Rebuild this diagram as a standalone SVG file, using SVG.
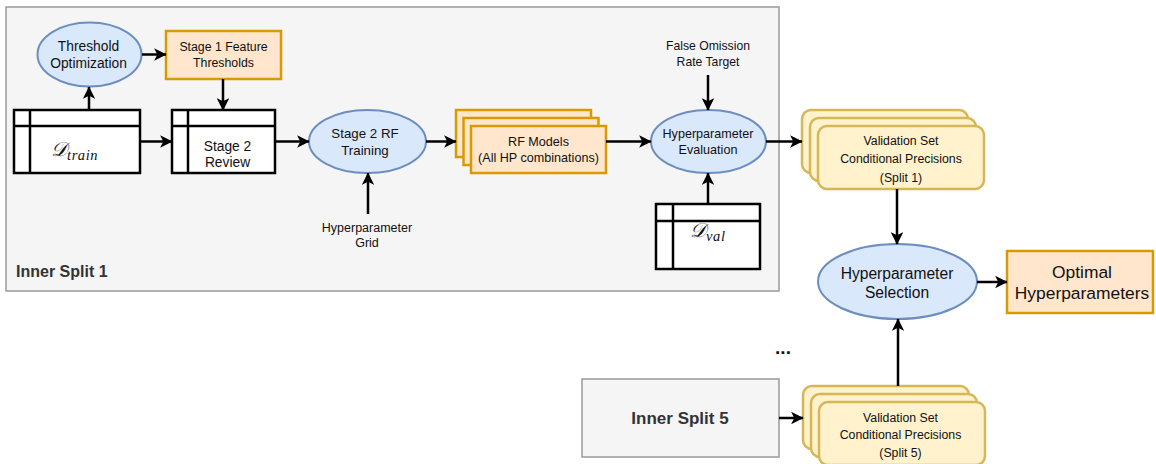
<svg xmlns="http://www.w3.org/2000/svg" width="1156" height="464" viewBox="0 0 1156 464">
  <defs>
    <marker id="arrow" viewBox="0 0 10 10" refX="9.5" refY="5" markerWidth="5.2" markerHeight="5" orient="auto" markerUnits="strokeWidth">
      <path d="M0,0 L10,5 L0,10 L2.5,5 Z" fill="#000"/>
    </marker>
    <style>
      text { font-family: "Liberation Sans", Arial, sans-serif; fill: #111; text-anchor: middle; }
      .ell { fill: #dae8fc; stroke: #6c8ebf; stroke-width: 2; }
      .org { fill: #ffe6cc; stroke: #d79b00; stroke-width: 2.5; }
      .yel { fill: #fff2cc; stroke: #d6b656; stroke-width: 2.5; }
      .tbl { fill: #fff; stroke: #000; stroke-width: 2.5; }
      .grp { fill: #f5f5f5; stroke: #999; stroke-width: 1.5; }
      .edge { fill: none; stroke: #000; stroke-width: 2.5; marker-end: url(#arrow); }
      .math { font-family: "Liberation Serif", "DejaVu Serif", serif; font-style: italic; text-anchor: start; }
      .sub { letter-spacing: 0.6px; }
      .glabel { font-weight: bold; fill: #333; }
    </style>
  </defs>

  <!-- container for the first inner split -->
  <g id="inner-split-1">
    <rect class="grp" x="6" y="7" width="773" height="284"/>
    <text class="glabel" x="16" y="277" font-size="16" style="text-anchor:start">Inner Split 1</text>
  </g>

  <g id="threshold-optimization">
    <ellipse class="ell" cx="89.5" cy="54.5" rx="52" ry="32"/>
    <text x="88.5" y="50.5" font-size="13.8">Threshold</text>
    <text x="88.5" y="67.5" font-size="13.8">Optimization</text>
  </g>

  <g id="stage1-thresholds">
    <rect class="org" x="166" y="31" width="115" height="48"/>
    <text x="223.5" y="50.5" font-size="12.3">Stage 1 Feature</text>
    <text x="223.5" y="66.5" font-size="12.3">Thresholds</text>
  </g>

  <g id="d-train">
    <rect class="tbl" x="14" y="110" width="126" height="63"/>
    <line x1="30" y1="110" x2="30" y2="173" stroke="#000" stroke-width="2.5"/>
    <line x1="14" y1="126" x2="140" y2="126" stroke="#000" stroke-width="2.5"/>
    <text class="math" x="51" y="156"><tspan font-size="20">𝒟</tspan><tspan class="sub" font-size="14.5" dy="3.5">train</tspan></text>
  </g>

  <g id="stage2-review">
    <rect class="tbl" x="172" y="110" width="103" height="63"/>
    <line x1="188" y1="110" x2="188" y2="173" stroke="#000" stroke-width="2.5"/>
    <line x1="172" y1="126" x2="275" y2="126" stroke="#000" stroke-width="2.5"/>
    <text x="227.5" y="151" font-size="13.8">Stage 2</text>
    <text x="227.5" y="167" font-size="13.8">Review</text>
  </g>

  <g id="stage2-rf-training">
    <ellipse class="ell" cx="367.5" cy="141.5" rx="58.5" ry="31.5"/>
    <text x="365" y="137.5" font-size="13.3">Stage 2 RF</text>
    <text x="365" y="154.5" font-size="13.3">Training</text>
  </g>

  <g id="hp-grid">
    <text x="367" y="232" font-size="12.5">Hyperparameter</text>
    <text x="367" y="246.5" font-size="12.5">Grid</text>
  </g>

  <g id="rf-models">
    <rect class="org" x="456" y="110" width="135" height="47"/>
    <rect class="org" x="463.5" y="118" width="135" height="47"/>
    <rect class="org" x="471" y="126" width="135" height="47"/>
    <text x="538.5" y="145.5" font-size="12.6">RF Models</text>
    <text x="538.5" y="161.5" font-size="12.6">(All HP combinations)</text>
  </g>

  <g id="for-target">
    <text x="708" y="50" font-size="12.2">False Omission</text>
    <text x="708" y="66" font-size="12.2">Rate Target</text>
  </g>

  <g id="hp-evaluation">
    <ellipse class="ell" cx="708.5" cy="141.5" rx="57.5" ry="31.5"/>
    <text x="708" y="137.5" font-size="12.6">Hyperparameter</text>
    <text x="708" y="153.5" font-size="12.6">Evaluation</text>
  </g>

  <g id="d-val">
    <rect class="tbl" x="656" y="204" width="104" height="65"/>
    <line x1="673" y1="204" x2="673" y2="269" stroke="#000" stroke-width="2.5"/>
    <line x1="656" y1="221" x2="760" y2="221" stroke="#000" stroke-width="2.5"/>
    <text class="math" x="690" y="237"><tspan font-size="20">𝒟</tspan><tspan class="sub" font-size="14.5" dy="3.5">val</tspan></text>
  </g>

  <g id="val-precisions-split1">
    <rect class="yel" x="802" y="110" width="166" height="63" rx="9"/>
    <rect class="yel" x="810" y="118" width="166" height="63" rx="9"/>
    <rect class="yel" x="818" y="126" width="166" height="63" rx="9"/>
    <text x="901" y="144.5" font-size="12.3">Validation Set</text>
    <text x="901" y="162.5" font-size="12.3">Conditional Precisions</text>
    <text x="901" y="181.5" font-size="12.3">(Split 1)</text>
  </g>

  <g id="hp-selection">
    <ellipse class="ell" cx="897.5" cy="281.5" rx="79.5" ry="37.5"/>
    <text x="897" y="278.5" font-size="15.6">Hyperparameter</text>
    <text x="897" y="297.5" font-size="15.6">Selection</text>
  </g>

  <g id="optimal-hp">
    <rect class="org" x="1007" y="251" width="146" height="62"/>
    <text x="1082" y="278" font-size="17.4">Optimal</text>
    <text x="1082" y="299" font-size="17.4">Hyperparameters</text>
  </g>

  <g id="ellipsis">
    <text x="783" y="354" font-size="19" font-weight="bold">...</text>
  </g>

  <g id="inner-split-5">
    <rect class="grp" x="582" y="379" width="197" height="78"/>
    <text class="glabel" x="680" y="424" font-size="17">Inner Split 5</text>
  </g>

  <g id="val-precisions-split5">
    <rect class="yel" x="803" y="386" width="166" height="63" rx="9"/>
    <rect class="yel" x="811" y="394" width="166" height="63" rx="9"/>
    <rect class="yel" x="819" y="402" width="166" height="63" rx="9"/>
    <text x="900.5" y="421.5" font-size="12.3">Validation Set</text>
    <text x="900.5" y="438.5" font-size="12.3">Conditional Precisions</text>
    <text x="900.5" y="456.5" font-size="12.3">(Split 5)</text>
  </g>

  <!-- connectors -->
  <g id="connectors">
    <path class="edge" d="M142,54.5 L166,54.5"/>
    <path class="edge" d="M89,110 L89,87"/>
    <path class="edge" d="M223,79 L223,110"/>
    <path class="edge" d="M140,141.5 L172,141.5"/>
    <path class="edge" d="M275,141.5 L309,141.5"/>
    <path class="edge" d="M368,214 L368,173"/>
    <path class="edge" d="M426,141.5 L456,141.5"/>
    <path class="edge" d="M606,141.5 L651,141.5"/>
    <path class="edge" d="M708,75 L708,110"/>
    <path class="edge" d="M708,204 L708,173"/>
    <path class="edge" d="M766,141.5 L802,141.5"/>
    <path class="edge" d="M897,189 L897,244"/>
    <path class="edge" d="M977,282 L1007,282"/>
    <path class="edge" d="M779,418 L803,418"/>
    <path class="edge" d="M898,386 L898,319"/>
  </g>
</svg>
